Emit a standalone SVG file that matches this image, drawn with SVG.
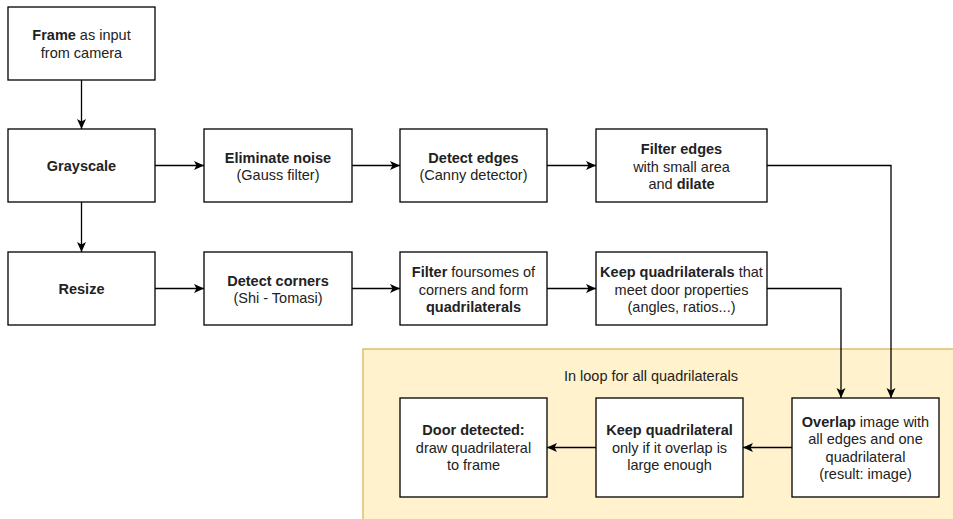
<svg xmlns="http://www.w3.org/2000/svg" width="953" height="519" viewBox="0 0 953 519">
<style>
.box{fill:#ffffff;stroke:#000000;stroke-width:1.3}
.t{font-family:"Liberation Sans",Arial,Helvetica,sans-serif;font-size:14.5px;fill:#222222;text-anchor:middle}
.b{font-weight:bold}
.c{fill:none;stroke:#000000;stroke-width:1.3}
</style>
<defs>
<marker id="ah" markerUnits="userSpaceOnUse" markerWidth="12" markerHeight="10" refX="10" refY="4.5" orient="auto">
<path d="M0,0 L10,4.5 L0,9 L2.5,4.5 Z" fill="#000000"/>
</marker>
</defs>
<rect id="loop-container" x="363" y="349" width="600" height="180" fill="#fff2cc" stroke="#d6b656" stroke-width="1.3"/>
<text class="t" x="651" y="381">In loop for all quadrilaterals</text>
<g id="connectors">
<path class="c" d="M81.5 80 V129" marker-end="url(#ah)"/>
<path class="c" d="M81.5 202 V252" marker-end="url(#ah)"/>
<path class="c" d="M155 165.5 H204" marker-end="url(#ah)"/>
<path class="c" d="M352 165.5 H400" marker-end="url(#ah)"/>
<path class="c" d="M547 165.5 H596" marker-end="url(#ah)"/>
<path class="c" d="M155 288.5 H204" marker-end="url(#ah)"/>
<path class="c" d="M352 288.5 H400" marker-end="url(#ah)"/>
<path class="c" d="M547 288.5 H596" marker-end="url(#ah)"/>
<path class="c" d="M767 165.5 H891 V398" marker-end="url(#ah)"/>
<path class="c" d="M767 288.5 H841 V398" marker-end="url(#ah)"/>
<path class="c" d="M792 447.5 H743" marker-end="url(#ah)"/>
<path class="c" d="M596 447.5 H547" marker-end="url(#ah)"/>
</g>
<g id="frame">
<rect class="box" x="8" y="7" width="147" height="73"/>
<text class="t" x="81.5" y="40"><tspan class="b">Frame</tspan> as input</text>
<text class="t" x="81.5" y="57.5">from camera</text>
</g>
<g id="grayscale">
<rect class="box" x="8" y="129" width="147" height="73"/>
<text class="t b" x="81.5" y="171">Grayscale</text>
</g>
<g id="eliminate-noise">
<rect class="box" x="204" y="129" width="148" height="73"/>
<text class="t b" x="278" y="162.5">Eliminate noise</text>
<text class="t" x="278" y="180">(Gauss filter)</text>
</g>
<g id="detect-edges">
<rect class="box" x="400" y="129" width="147" height="73"/>
<text class="t b" x="473.5" y="162.5">Detect edges</text>
<text class="t" x="473.5" y="180">(Canny detector)</text>
</g>
<g id="filter-edges">
<rect class="box" x="596" y="129" width="171" height="73"/>
<text class="t b" x="681.5" y="154">Filter edges</text>
<text class="t" x="681.5" y="171.5">with small area</text>
<text class="t" x="681.5" y="189">and <tspan class="b">dilate</tspan></text>
</g>
<g id="resize">
<rect class="box" x="8" y="252" width="147" height="73"/>
<text class="t b" x="81.5" y="294">Resize</text>
</g>
<g id="detect-corners">
<rect class="box" x="204" y="252" width="148" height="73"/>
<text class="t b" x="278" y="285.5">Detect corners</text>
<text class="t" x="278" y="303">(Shi - Tomasi)</text>
</g>
<g id="filter-foursomes">
<rect class="box" x="400" y="252" width="147" height="73"/>
<text class="t" x="473.5" y="277"><tspan class="b">Filter</tspan> foursomes of</text>
<text class="t" x="473.5" y="294.5">corners and form</text>
<text class="t b" x="473.5" y="312">quadrilaterals</text>
</g>
<g id="keep-quadrilaterals">
<rect class="box" x="596" y="252" width="171" height="73"/>
<text class="t" x="681.5" y="277"><tspan class="b">Keep quadrilaterals</tspan> that</text>
<text class="t" x="681.5" y="294.5">meet door properties</text>
<text class="t" x="681.5" y="312">(angles, ratios...)</text>
</g>
<g id="overlap">
<rect class="box" x="792" y="398" width="147" height="99"/>
<text class="t" x="865.5" y="426.5"><tspan class="b">Overlap</tspan> image with</text>
<text class="t" x="865.5" y="444">all edges and one</text>
<text class="t" x="865.5" y="461.5">quadrilateral</text>
<text class="t" x="865.5" y="479">(result: image)</text>
</g>
<g id="keep-quadrilateral">
<rect class="box" x="596" y="398" width="147" height="99"/>
<text class="t b" x="669.5" y="435">Keep quadrilateral</text>
<text class="t" x="669.5" y="452.5">only if it overlap is</text>
<text class="t" x="669.5" y="470">large enough</text>
</g>
<g id="door-detected">
<rect class="box" x="400" y="398" width="147" height="99"/>
<text class="t b" x="473.5" y="435">Door detected:</text>
<text class="t" x="473.5" y="452.5">draw quadrilateral</text>
<text class="t" x="473.5" y="470">to frame</text>
</g>
</svg>
